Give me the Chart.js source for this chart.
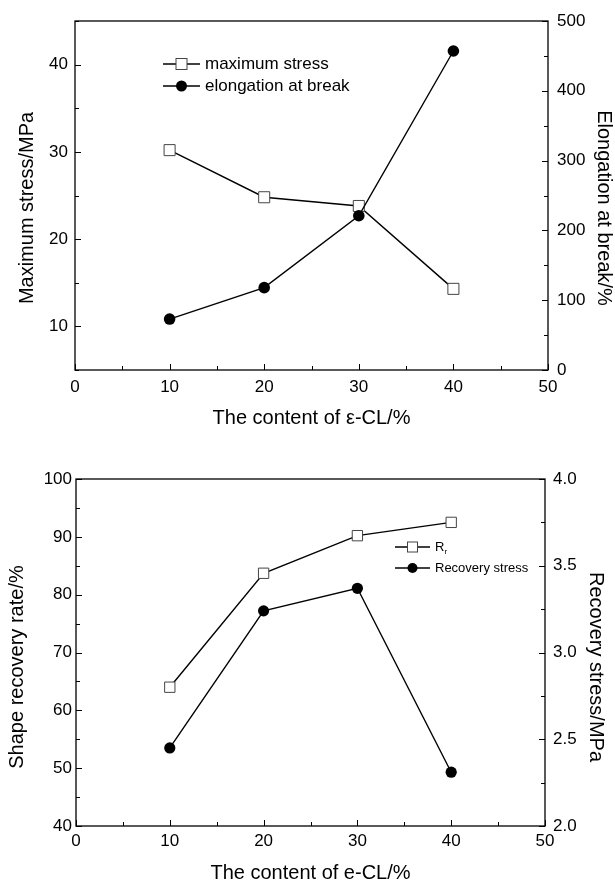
<!DOCTYPE html>
<html lang="en">
<head>
    <meta charset="UTF-8">
    <title>e-CL content</title>
    <script src="https://cdn.jsdelivr.net/npm/chart.js@4.4.0/dist/chart.umd.min.js"></script>
    <style>
        body { margin: 0; background: #fff; }
        #top { position: absolute; left: 0; top: 0; }
        #bottom { position: absolute; left: 0; top: 440px; }
    </style>
</head>
<body>
    <canvas id="top" width="615" height="440"></canvas>
    <canvas id="bottom" width="615" height="442"></canvas>

    <script>
        // data
        const contentCL = [10, 20, 30, 40];
        const maxStress = [30.2, 24.8, 23.8, 14.3];
        const elongation = [73, 118, 221, 457];
        const recoveryRate = [64.0, 83.7, 90.2, 92.5];
        const recoveryStress = [2.45, 3.24, 3.37, 2.31];

        // tick labels
        const xTicks = [0, 10, 20, 30, 40, 50];
        const stressTicks = [10, 20, 30, 40];
        const elongTicks = [0, 100, 200, 300, 400, 500];
        const rateTicks = [40, 50, 60, 70, 80, 90, 100];
        const recStressTicks = [2.0, 2.5, 3.0, 3.5, 4.0];

        const FONT = '"Liberation Sans", Arial, sans-serif';

        function pts(ys) {
            return contentCL.map((x, i) => ({ x: x, y: ys[i] }));
        }

        // frame, inward tick marks, axis titles and the inset legend
        const frameTicks = {
            id: 'frameTicks',
            afterDatasetsDraw(chart, args, opts) {
                const ctx = chart.ctx;
                const a = chart.chartArea;
                ctx.save();
                ctx.strokeStyle = '#000';
                ctx.lineWidth = 1.3;
                ctx.strokeRect(a.left, a.top, a.right - a.left, a.bottom - a.top);

                ctx.lineWidth = 1;
                opts.ticks.forEach(t => {
                    const s = chart.scales[t.id];
                    for (let v = s.min; v <= s.max + 1e-9; v += t.minor) {
                        const major = Math.abs(v / t.major - Math.round(v / t.major)) < 1e-6;
                        const len = major ? 6 : 4;
                        const p = Math.round(s.getPixelForValue(v)) + 0.5;
                        ctx.beginPath();
                        if (t.id === 'x') {
                            ctx.moveTo(p, a.bottom); ctx.lineTo(p, a.bottom - len);
                        } else if (t.id === 'y') {
                            ctx.moveTo(a.left, p); ctx.lineTo(a.left + len, p);
                        } else {
                            ctx.moveTo(a.right, p); ctx.lineTo(a.right - len, p);
                        }
                        ctx.stroke();
                    }
                });

                // axis titles
                ctx.fillStyle = '#000';
                ctx.font = opts.titleSize + 'px ' + FONT;
                ctx.textAlign = 'center';
                ctx.textBaseline = 'middle';
                const t = opts.titles;
                ctx.fillText(t.x, (a.left + a.right) / 2, t.xY);
                ctx.save();
                ctx.translate(t.yX, t.yMid);
                ctx.rotate(-Math.PI / 2);
                ctx.fillText(t.y, 0, 0);
                ctx.restore();
                ctx.save();
                ctx.translate(t.y1X, t.yMid);
                ctx.rotate(Math.PI / 2);
                ctx.fillText(t.y1, 0, 0);
                ctx.restore();

                // legend
                const lg = opts.legend;
                ctx.font = lg.size + 'px ' + FONT;
                ctx.textAlign = 'left';
                chart.data.datasets.forEach((ds, i) => {
                    const y = lg.y + i * lg.gap;
                    const cx = lg.x + lg.line / 2;
                    ctx.strokeStyle = '#000';
                    ctx.lineWidth = 1.4;
                    ctx.beginPath();
                    ctx.moveTo(lg.x, y); ctx.lineTo(lg.x + lg.line, y);
                    ctx.stroke();
                    if (ds.pointStyle === 'rect') {
                        const h = lg.marker / 2;
                        ctx.fillStyle = '#fff';
                        ctx.fillRect(cx - h, y - h, 2 * h, 2 * h);
                        ctx.strokeStyle = '#444';
                        ctx.lineWidth = 1;
                        ctx.strokeRect(cx - h, y - h, 2 * h, 2 * h);
                    } else {
                        ctx.fillStyle = '#000';
                        ctx.beginPath();
                        ctx.arc(cx, y, lg.marker / 2, 0, Math.PI * 2);
                        ctx.fill();
                    }
                    ctx.fillStyle = '#000';
                    const tx = lg.x + lg.line + 5;
                    ctx.fillText(ds.label, tx, y);
                    if (ds.sub) {
                        const w = ctx.measureText(ds.label).width;
                        ctx.font = Math.round(lg.size * 0.6) + 'px ' + FONT;
                        ctx.fillText(ds.sub, tx + w, y + lg.size * 0.35);
                        ctx.font = lg.size + 'px ' + FONT;
                    }
                });
                ctx.restore();
            }
        };

        function sized(prop, val) {
            return function(scale) { scale[prop] = val; };
        }

        function fixedTicks(list) {
            return function(scale) {
                scale.ticks = list.map(v => ({ value: v }));
            };
        }

        function yAxis(position, min, max, list, width, pad, fmt) {
            return {
                type: 'linear',
                position: position,
                min: min,
                max: max,
                afterFit: sized('width', width),
                afterBuildTicks: fixedTicks(list),
                grid: { display: false, drawTicks: false },
                border: { display: false },
                ticks: {
                    padding: pad,
                    color: '#000',
                    font: { family: FONT, size: 17 },
                    callback: fmt || (v => v)
                }
            };
        }

        function xAxis(height, pad) {
            return {
                type: 'linear',
                position: 'bottom',
                min: 0,
                max: 50,
                afterFit: sized('height', height),
                afterBuildTicks: fixedTicks(xTicks),
                grid: { display: false, drawTicks: false },
                border: { display: false },
                ticks: {
                    padding: pad,
                    maxRotation: 0,
                    color: '#000',
                    font: { family: FONT, size: 17 }
                }
            };
        }

        function squareSet(label, ys) {
            return {
                label: label,
                data: pts(ys),
                yAxisID: 'y',
                order: 1,
                borderColor: '#000',
                borderWidth: 1.4,
                pointStyle: 'rect',
                pointRadius: 7.8,
                pointBackgroundColor: '#fff',
                pointBorderColor: '#444',
                pointBorderWidth: 1
            };
        }

        function circleSet(label, ys) {
            return {
                label: label,
                data: pts(ys),
                yAxisID: 'y1',
                order: 0,
                borderColor: '#000',
                borderWidth: 1.4,
                pointStyle: 'circle',
                pointRadius: 5.8,
                pointBackgroundColor: '#000',
                pointBorderColor: '#000',
                pointBorderWidth: 0
            };
        }

        Chart.defaults.animation = false;

        new Chart(document.getElementById('top'), {
            type: 'line',
            data: {
                datasets: [
                    squareSet('maximum stress', maxStress),
                    circleSet('elongation at break', elongation)
                ]
            },
            options: {
                responsive: false,
                layout: { padding: { top: 21, left: 0, right: 0, bottom: 0 } },
                plugins: {
                    legend: { display: false },
                    tooltip: { enabled: false },
                    frameTicks: {
                        ticks: [
                            { id: 'x', major: 10, minor: 5 },
                            { id: 'y', major: 10, minor: 5 },
                            { id: 'y1', major: 100, minor: 50 }
                        ],
                        titleSize: 20,
                        titles: {
                            x: 'The content of ε-CL/%', xY: 418,
                            y: 'Maximum stress/MPa', yX: 27,
                            y1: 'Elongation at break/%', y1X: 604,
                            yMid: 208
                        },
                        legend: { x: 163, y: 64, gap: 22, line: 37, marker: 11, size: 17 }
                    }
                },
                scales: {
                    x: xAxis(70, 7),
                    y: yAxis('left', 5, 45, stressTicks, 75, 7),
                    y1: yAxis('right', 0, 500, elongTicks, 67, 9)
                }
            },
            plugins: [frameTicks]
        });

        new Chart(document.getElementById('bottom'), {
            type: 'line',
            data: {
                datasets: [
                    Object.assign(squareSet('R', recoveryRate), { sub: 'r', pointRadius: 7.3 }),
                    Object.assign(circleSet('Recovery stress', recoveryStress), { pointRadius: 5.6 })
                ]
            },
            options: {
                responsive: false,
                layout: { padding: { top: 39, left: 0, right: 0, bottom: 0 } },
                plugins: {
                    legend: { display: false },
                    tooltip: { enabled: false },
                    frameTicks: {
                        ticks: [
                            { id: 'x', major: 10, minor: 5 },
                            { id: 'y', major: 10, minor: 5 },
                            { id: 'y1', major: 0.5, minor: 0.25 }
                        ],
                        titleSize: 20,
                        titles: {
                            x: 'The content of e-CL/%', xY: 433,
                            y: 'Shape recovery rate/%', yX: 17,
                            y1: 'Recovery stress/MPa', y1X: 596,
                            yMid: 227
                        },
                        legend: { x: 395, y: 107, gap: 21, line: 35, marker: 10, size: 13 }
                    }
                },
                scales: {
                    x: xAxis(56, 5),
                    y: yAxis('left', 40, 100, rateTicks, 76, 4),
                    y1: yAxis('right', 2, 4, recStressTicks, 70, 8, v => v.toFixed(1))
                }
            },
            plugins: [frameTicks]
        });
    </script>
</body>
</html>
